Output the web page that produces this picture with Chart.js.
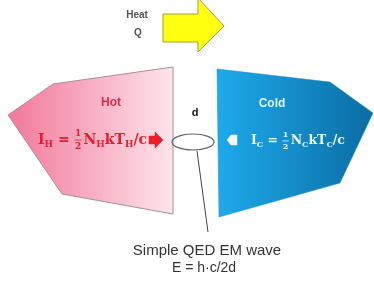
<!DOCTYPE html>
<html>
<head>
<meta charset="utf-8">
<script src="https://cdn.jsdelivr.net/npm/chart.js@4.4.0/dist/chart.umd.min.js"></script>
<style>
  html, body { margin: 0; padding: 0; background: #fff; }
  #box { width: 374px; height: 282px; }
</style>
</head>
<body>
<div id="box"><canvas id="diagrama" width="374" height="282"></canvas></div>
<script>
// Vértices das formas (coordenadas no plano do desenho)
const quenteX = [173, 53, 8, 62, 173, 173];
const quenteY = [67, 84, 115, 194, 214, 67];
const frioX = [217, 330, 373, 340, 219, 217];
const frioY = [69, 82, 113, 183, 217, 69];
const setaCalorX = [163, 198, 198, 224, 198, 198, 163, 163];
const setaCalorY = [14, 14, -2, 26, 52, 42, 42, 14];
const setaVermX = [149, 155, 155, 163, 155, 155, 149, 149];
const setaVermY = [136, 136, 132, 140, 148, 144, 144, 136];
const setaBrancaX = [237, 231, 227, 231, 237, 237];
const setaBrancaY = [135, 135, 140, 145, 145, 135];
const fioX = [197, 208];
const fioY = [151, 232];

// Textos
const textos = ['Heat', 'Q', 'Hot', 'Cold', 'd', 'Simple QED EM wave', 'E = h\u00b7c/2d'];
const textosX = [137, 138, 111, 272, 195, 207, 204];
const textosY = [15, 33, 103, 104, 113, 251, 268];

const elipse = { x: 193, y: 142, rx: 21, ry: 8 };

function pontos(xs, ys) {
  return xs.map((x, i) => ({ x: x, y: ys[i] }));
}

function gradiente(cores, x0, x1) {
  return (ctx) => {
    const chart = ctx.chart;
    if (!chart.chartArea) return cores[0];
    const sx = chart.scales.x;
    const g = chart.ctx.createLinearGradient(sx.getPixelForValue(x0), 0, sx.getPixelForValue(x1), 0);
    g.addColorStop(0, cores[0]);
    g.addColorStop(1, cores[1]);
    return g;
  };
}

// ordem maior = desenhado por baixo
function forma(xs, ys, fundo, borda, largura, ordem) {
  return {
    data: pontos(xs, ys),
    showLine: true,
    fill: 'shape',
    backgroundColor: fundo,
    borderColor: borda,
    borderWidth: largura,
    pointRadius: 0,
    tension: 0,
    clip: false,
    order: ordem
  };
}

// Fórmula: I_H = ½ N_H kT_H / c
function desenhaFormula(c, x, y, sub, cor, tam) {
  c.save();
  c.fillStyle = cor;
  c.strokeStyle = cor;
  c.textBaseline = 'middle';
  c.textAlign = 'left';
  const grande = `bold ${tam}px "DejaVu Serif", serif`;
  const peq = `bold ${Math.round(tam * 0.62)}px "DejaVu Serif", serif`;
  const pedaco = (t, f, dy) => {
    c.font = f;
    c.fillText(t, x, y + dy);
    x += c.measureText(t).width;
  };
  pedaco('I', grande, 0);
  pedaco(sub, peq, tam * 0.3);
  pedaco(' = ', grande, 0);
  c.font = peq;
  c.textAlign = 'center';
  const w = tam * 0.5;
  c.fillText('1', x + w / 2, y - tam * 0.45);
  c.fillText('2', x + w / 2, y + tam * 0.45);
  c.lineWidth = 0.8;
  c.beginPath();
  c.moveTo(x, y);
  c.lineTo(x + w, y);
  c.stroke();
  c.textAlign = 'left';
  x += w + 2;
  pedaco('N', grande, 0);
  pedaco(sub, peq, tam * 0.3);
  pedaco('kT', grande, 0);
  pedaco(sub, peq, tam * 0.3);
  pedaco('/c', grande, 0);
  c.restore();
}

const extras = {
  id: 'extras',
  afterDatasetsDraw(chart) {
    const c = chart.ctx;
    const sx = chart.scales.x;
    const sy = chart.scales.y;
    // elipse
    c.save();
    c.strokeStyle = '#666';
    c.lineWidth = 1.2;
    c.beginPath();
    c.ellipse(sx.getPixelForValue(elipse.x), sy.getPixelForValue(elipse.y), elipse.rx, elipse.ry, 0, 0, Math.PI * 2);
    c.stroke();
    c.restore();

    const estilos = [
      ['bold 10px Arial, "Liberation Sans"', '#555'],
      ['bold 10px Arial, "Liberation Sans"', '#555'],
      ['bold 12px Arial, "Liberation Sans"', '#d8304a'],
      ['bold 12px Arial, "Liberation Sans"', '#dff3ff'],
      ['bold 11px Arial, "Liberation Sans"', '#111'],
      ['15px Arial, "Liberation Sans"', '#333'],
      ['14px Arial, "Liberation Sans"', '#333']
    ];
    c.save();
    c.textAlign = 'center';
    c.textBaseline = 'middle';
    textos.forEach((t, i) => {
      c.font = estilos[i][0];
      c.fillStyle = estilos[i][1];
      c.fillText(t, sx.getPixelForValue(textosX[i]), sy.getPixelForValue(textosY[i]));
    });
    c.restore();

    desenhaFormula(c, sx.getPixelForValue(38), sy.getPixelForValue(140), 'H', '#e81c2c', 14);
    desenhaFormula(c, sx.getPixelForValue(251), sy.getPixelForValue(141), 'C', '#eaf7ff', 12.5);
  }
};

const grafico = new Chart(document.getElementById('diagrama'), {
  type: 'scatter',
  data: {
    datasets: [
      forma(quenteX, quenteY, gradiente(['#f2789a', '#fde4eb'], 8, 173), '#a89098', 1, 5),
      forma(frioX, frioY, gradiente(['#1eaaea', '#0a6ca4'], 217, 373), '#1a8ccc', 0.5, 5),
      forma(setaCalorX, setaCalorY, '#ffff10', '#a0a040', 1, 2),
      forma(setaVermX, setaVermY, '#ee1c24', '#ee1c24', 0.5, 1),
      forma(setaBrancaX, setaBrancaY, '#f4fbff', '#f4fbff', 0.5, 1),
      {
        data: pontos(fioX, fioY),
        showLine: true,
        borderColor: '#444',
        borderWidth: 1,
        pointRadius: 0,
        fill: false,
        order: 1
      }
    ]
  },
  options: {
    responsive: false,
    animation: false,
    layout: { padding: 0 },
    scales: {
      x: { type: 'linear', min: 0, max: 374, display: false },
      y: { type: 'linear', min: 0, max: 282, reverse: true, display: false }
    },
    plugins: {
      legend: { display: false },
      tooltip: { enabled: false }
    }
  },
  plugins: [extras]
});
</script>
</body>
</html>
